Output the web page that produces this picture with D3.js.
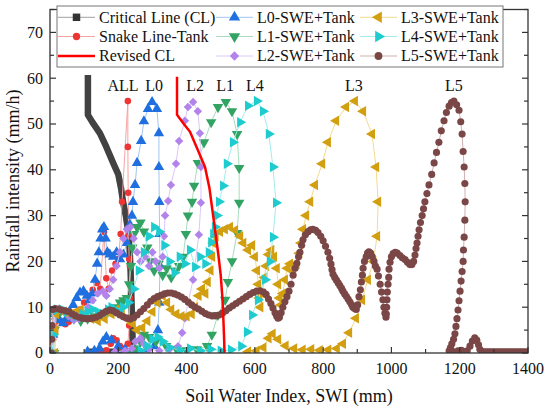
<!DOCTYPE html>
<html><head><meta charset="utf-8">
<script src="https://cdn.jsdelivr.net/npm/d3@7"></script>
<style>body{margin:0;background:#fff}</style>
</head><body><svg id="c" width="550" height="412"></svg>
<script>
const xTicks=[0,200,400,600,800,1000,1200,1400];
const yTicks=[0,10,20,30,40,50,60,70];
const peakLabels=[["ALL",214],["L0",305],["L2",425],["L1",513],["L4",600],["L3",890],["L5",1183]];

const CL=[[111,60.7],[111,56],[111,52],[125,50.3],[146,48],[165,45],[185,41.5],[200,39],[208,36],[214,33],[222,30],[228,27],[233,23],[236,18],[238,13],[240,8],[242,3],[243,0.4],[200,0.3],[150,0.3],[110,0.3]];
const revisedCL=[[372,60.3],[372,52],[392,50],[410,48.3],[432,44.5],[454,40.6],[467,36],[476,31],[485,26],[493,21.5],[500,17],[505,12],[508,7],[510,3],[511,0]];
const snake=[[3,0],[4,2.5],[6,5],[9,3],[12,5.5],[16,6.8],[25,7.2],[35,6.8],[45,6.3],[55,6.8],[65,7.5],[75,8.2],[88,9.5],[100,11],[112,12.5],[125,13.8],[137,15.3],[147,14],[158,26.5],[165,16.3],[172,14],[182,18],[192,19.5],[200,20.5],[207,26],[211,33],[228,55],[228,45],[229,35],[230,26],[232,20.5],[234,19],[234,12],[232,6],[228,2],[215,1],[205,1.5],[195,2.8],[185,3.2],[178,2],[165,0.6],[150,0.3]];
const L0=[[8,0],[9,4],[10,8.5],[18,8],[28,7.2],[38,6.5],[48,7.5],[58,9],[68,10.5],[78,12],[88,13.2],[98,13.5],[108,12.5],[116,11.5],[124,13],[132,16],[138,19.5],[143,22],[148,25],[153,27],[158,27.5],[163,25],[168,22],[175,21.5],[185,21],[195,22],[205,20.5],[215,21.5],[225,24],[234,28],[240,30],[243,33],[249,36.7],[255,41.5],[267,46.3],[275,50.6],[287,53.3],[299,54.8],[313,53.3],[319,48],[319,40.6],[320,33],[321,26],[322,19],[320,11],[316,5],[305,1.5],[280,0.8],[250,0.6],[220,0.8],[200,1.5],[180,2.8],[165,3.5],[155,2.5],[145,1],[130,0.5],[110,0.3]];
const L1=[[12,0],[13,5],[15,9],[30,9],[50,8.5],[70,7.5],[90,7],[110,7.5],[130,8],[150,8.5],[170,9],[190,10],[205,11],[215,11.5],[225,12],[232,15],[237,19],[241,23],[246,26],[255,27.5],[265,28.5],[275,26.5],[285,23],[293,20],[305,18],[318,19.5],[330,17],[342,18.5],[355,16.5],[366,18],[378,19],[390,21],[398,26],[404,30],[416,33],[422,36.5],[433,41.5],[451,46],[472,50.4],[492,53.7],[515,54.8],[533,52.8],[548,47.8],[554,40.4],[554,32.8],[548,26.2],[533,20],[521,15.5],[513,11.6],[492,8.3],[474,4],[460,1.5],[430,0.8],[400,0.6],[370,0.9],[340,1.5],[310,2.5],[290,3.5],[275,4],[265,2.5],[250,1],[230,0.4]];
const L2=[[10,0],[12,5],[14,9],[25,9.5],[40,9],[55,8],[70,7.2],[85,7.5],[100,8.5],[112,10],[125,11.5],[140,13],[155,13.5],[165,12.5],[175,14],[185,16],[195,19],[205,22],[215,25],[225,27],[235,27.5],[245,25],[255,22],[265,20],[278,21],[290,19],[300,22],[310,20],[320,18.5],[330,21],[334,25.5],[337,30],[346,33.2],[354,36.7],[369,41.3],[378,46.3],[395,50.7],[404,53.7],[419,54.8],[433,52.8],[439,48],[442,40.6],[442,32.8],[436,25.8],[419,16],[395,7.6],[387,4.4],[375,1.5],[350,0.8],[320,0.5],[290,0.8],[275,2],[265,3.2],[250,2.5],[240,1],[220,0.5],[190,0.3]];
const L3=[[15,0],[16,5],[18,8.5],[40,9],[60,8.5],[75,9],[90,9.5],[105,8.5],[120,7.5],[140,7],[160,7.5],[180,8.5],[195,9.5],[210,8.5],[225,7.5],[240,6.5],[255,5],[270,5.5],[285,7],[300,9],[315,11],[330,12.5],[343,11],[355,9.5],[370,8.5],[385,8],[400,8],[415,8.5],[425,10],[435,12.5],[445,14],[455,13],[462,15.5],[470,18],[475,21],[478,24],[485,25.5],[498,26.5],[512,27],[527,27.5],[542,26.8],[557,25.5],[566,24],[580,22.5],[592,23.5],[600,21],[606,18],[610,15],[613,12],[616,10],[622,13],[628,16.5],[633,19],[640,21.5],[648,22.5],[656,21],[664,18.5],[668,15],[672,12],[676,10.5],[682,13],[688,16],[695,18.5],[703,19.5],[712,18],[722,19.5],[730,21.8],[735,24],[741,27],[750,30],[762,33],[776,36.7],[797,41.3],[814,46],[838,50.7],[867,53.7],[893,55],[917,52.8],[943,47.8],[955,40.6],[961,33],[958,25.5],[947,20],[931,16],[914,11.6],[896,7.6],[876,4.4],[858,2],[840,1],[815,0.7],[790,0.6],[765,0.8],[740,0.7],[715,1],[690,1.6],[668,3],[652,4.2],[640,3.2],[625,1.2],[605,0.5],[580,0.3]];
const L4=[[8,0],[9,4],[10,9],[20,9.5],[35,9.5],[50,9],[65,8.5],[80,8],[95,8.5],[110,9],[125,9.5],[140,9],[155,8.5],[170,9.5],[180,10],[190,9.5],[200,9],[214,10],[230,11],[245,14],[260,18],[275,22],[290,25.5],[305,27.5],[320,26.5],[335,23.5],[350,20],[365,17.5],[380,21],[395,19.5],[410,22.5],[425,18.8],[440,21],[455,19.5],[465,22],[472,24.2],[478,26],[483,27.5],[489,30],[495,33],[507,36.5],[518,41.3],[536,46],[557,50.4],[580,54],[606,55],[624,52.8],[641,47.8],[653,40.6],[662,32.8],[653,25.3],[644,20],[630,16],[609,11.6],[592,8.3],[577,4.6],[560,1.5],[530,0.7],[500,0.5],[470,0.8],[440,0.5],[410,1],[380,0.6],[350,1.2],[330,2.5],[315,3.5],[300,3],[285,1.5],[265,0.5]];
const L5=[[4,0],[5,3],[6,6],[8,9.5],[15,9.7],[25,9.6],[35,9.4],[45,9.2],[55,9],[65,8.5],[75,8.1],[85,7.8],[95,7.6],[105,7.5],[115,7.5],[125,7.6],[135,7.8],[145,8.2],[155,8.7],[165,9.1],[175,9.4],[185,9.2],[195,8.8],[205,8.3],[215,7.9],[225,7.6],[235,7.4],[245,7.7],[255,8.3],[265,9],[275,9.7],[285,10.5],[295,11.3],[305,11.9],[315,12.3],[325,12.6],[335,12.9],[345,13.1],[355,13.1],[365,12.9],[375,12.6],[385,12.2],[395,11.7],[405,11.1],[415,10.5],[425,10],[435,9.6],[445,9.1],[455,8.6],[465,8.3],[475,8.1],[485,8.1],[495,8.3],[505,8.7],[515,9.2],[525,9.8],[535,10.3],[545,10.8],[555,11.3],[565,11.8],[575,12.3],[585,12.8],[595,13.2],[605,13.5],[615,13.6],[625,13.3],[633,12.8],[640,11.8],[647,10.8],[653,9.8],[659,8.8],[664,8],[668,7.6],[672,7.8],[677,8.8],[682,10],[688,11.2],[694,12.3],[700,13.5],[706,15],[712,17],[718,18.5],[723,19.6],[728,21],[732,22],[737,23.5],[741,24.7],[748,25.8],[756,26.5],[763,26.9],[770,27],[778,26.8],[785,26.3],[793,25.5],[800,24.5],[807,23.3],[814,22],[819,20.7],[823,19.4],[826,18.2],[829,17.2],[834,16.5],[839,15.9],[844,15.3],[849,14.7],[854,14.1],[858,13.5],[863,12.9],[868,12.4],[873,11.8],[878,11.2],[883,10.6],[887,10],[892,9.7],[897,9.5],[901,10.5],[905,12.3],[909,13.8],[912,15.5],[915,17],[917,18.5],[921,20],[926,21],[930,21.8],[934,22.1],[939,21.8],[944,21],[949,20],[953,19],[958,18.3],[962,16.8],[967,15],[971,13.3],[975,11.6],[978,10],[981,8.7],[984,7.8],[985,8.5],[986,10],[987,11.6],[988,13.3],[990,15],[992,16.5],[993,18.3],[996,19.8],[1000,21],[1005,21.7],[1011,22],[1017,21.8],[1025,21.3],[1032,20.8],[1040,20.4],[1047,19.8],[1054,19.3],[1060,19.3],[1065,20],[1069,21.4],[1072,22.8],[1075,24],[1078,25.5],[1081,26.9],[1085,28.5],[1090,30],[1094,31.5],[1098,33],[1104,34.8],[1110,36.7],[1118,39],[1125,41.5],[1132,43.8],[1139,46],[1146,48.5],[1154,50.7],[1161,52.5],[1169,53.9],[1176,54.7],[1183,55],[1191,54.2],[1198,53],[1203,50.5],[1207,47.8],[1210,44],[1213,40.6],[1215,37],[1216,33],[1215,29],[1213,25.3],[1211,22.5],[1210,20],[1207,17.8],[1204,15.7],[1201,13.5],[1198,11.4],[1195,9.4],[1192,7.5],[1189,5.8],[1186,4.2],[1182,3],[1177,2],[1173,1.2],[1169,0.5],[1180,0.3],[1195,0.5],[1205,0.6],[1212,0.3],[1222,0.5],[1230,1.5],[1237,2.6],[1244,3.3],[1250,2.8],[1255,1.8],[1259,0.8],[1264,0.3],[1270,0.25],[1277,0.25],[1284,0.25],[1291,0.25],[1298,0.25],[1305,0.25],[1312,0.25],[1319,0.25],[1326,0.25],[1333,0.25],[1340,0.25],[1347,0.25],[1354,0.25],[1361,0.25],[1368,0.25],[1375,0.25],[1382,0.25],[1389,0.25],[1396,0.25]];

const FONT="'Liberation Serif','Times New Roman',serif";
const svg=d3.select("#c");
const x=d3.scaleLinear().domain([0,1400]).range([50,528]);
const y=d3.scaleLinear().domain([0,75]).range([353,9.5]);

svg.append("defs").append("clipPath").attr("id","clip").append("rect")
  .attr("x",50).attr("y",9.5).attr("width",478).attr("height",343.5);

const series=[
 {name:"Snake Line-Tank",data:snake,color:"#ee3535",line:"#f5a3a3",shape:d3.symbolCircle,rot:0,size:34},
 {name:"L0-SWE+Tank",data:L0,color:"#1f6fe0",line:"#a3c5f3",shape:d3.symbolTriangle,rot:0,size:48},
 {name:"L1-SWE+Tank",data:L1,color:"#33a363",line:"#a9dcbd",shape:d3.symbolTriangle,rot:180,size:48},
 {name:"L2-SWE+Tank",data:L2,color:"#b283ea",line:"#dcc8f6",shape:d3.symbolSquare,rot:45,size:36},
 {name:"L3-SWE+Tank",data:L3,color:"#d29f10",line:"#f3da8e",shape:d3.symbolTriangle,rot:-90,size:48},
 {name:"L4-SWE+Tank",data:L4,color:"#1ecbcf",line:"#a3ecec",shape:d3.symbolTriangle,rot:90,size:48},
 {name:"L5-SWE+Tank",data:L5,color:"#7a4646",line:"#cfb0b0",shape:d3.symbolCircle,rot:0,size:40}
];

const plot=svg.append("g").attr("clip-path","url(#clip)");
const line=d3.line().x(d=>x(d[0])).y(d=>y(d[1]));

plot.append("path").attr("d",line(CL)).attr("fill","none").attr("stroke","#424242")
  .attr("stroke-width",6.5).attr("stroke-linejoin","round");

series.forEach(s=>{
  const g=plot.append("g");
  g.append("path").attr("d",line(s.data)).attr("fill","none").attr("stroke",s.line).attr("stroke-width",1);
  g.selectAll("path.m").data(s.data).enter().append("path").attr("class","m")
    .attr("d",d3.symbol().type(s.shape).size(s.size))
    .attr("transform",d=>`translate(${x(d[0])},${y(d[1])}) rotate(${s.rot})`)
    .attr("fill",s.color);
});

plot.append("path").attr("d",line(revisedCL)).attr("fill","none").attr("stroke","#ff0000")
  .attr("stroke-width",2.5).attr("stroke-linejoin","round");

const ax=svg.append("g");
ax.append("rect").attr("x",50).attr("y",9.5).attr("width",478).attr("height",343.5)
  .attr("fill","none").attr("stroke","#333").attr("stroke-width",1.3);
const xMinor=d3.range(0,1401,100), yMinor=d3.range(0,76,5);
xMinor.forEach(v=>{
  const L=(v%200===0)?6:4;
  ax.append("line").attr("x1",x(v)).attr("x2",x(v)).attr("y1",353).attr("y2",353-L).attr("stroke","#333").attr("stroke-width",1.2);
});
yMinor.forEach(v=>{
  const L=(v%10===0)?6:4;
  ax.append("line").attr("x1",50).attr("x2",50+L).attr("y1",y(v)).attr("y2",y(v)).attr("stroke","#333").attr("stroke-width",1.2);
  ax.append("line").attr("x1",528).attr("x2",528-L).attr("y1",y(v)).attr("y2",y(v)).attr("stroke","#333").attr("stroke-width",1.2);
});
xTicks.forEach(v=>{
  ax.append("text").attr("x",x(v)).attr("y",374).attr("text-anchor","middle")
    .attr("font-family",FONT).attr("font-size",16).attr("fill","#111").text(v);
});
yTicks.forEach(v=>{
  ax.append("text").attr("x",43).attr("y",y(v)).attr("dy","0.34em").attr("text-anchor","end")
    .attr("font-family",FONT).attr("font-size",16).attr("fill","#111").text(v);
});
ax.append("text").attr("x",289).attr("y",402).attr("text-anchor","middle")
  .attr("font-family",FONT).attr("font-size",18).attr("fill","#111").text("Soil Water Index, SWI (mm)");
ax.append("text").attr("transform","translate(19,181) rotate(-90)").attr("text-anchor","middle")
  .attr("font-family",FONT).attr("font-size",18).attr("fill","#111").text("Rainfall intensity (mm/h)");

peakLabels.forEach(([t,v])=>{
  svg.append("text").attr("x",x(v)).attr("y",y(57.3)).attr("text-anchor","middle")
    .attr("font-family",FONT).attr("font-size",16).attr("fill","#111").text(t);
});

const lg=svg.append("g");
lg.append("rect").attr("x",57).attr("y",6).attr("width",446).attr("height",61)
  .attr("fill","#fff").attr("stroke","#777").attr("stroke-width",1);
const cols=[58,216,360], rows=[17.3,36.5,56];
const legendItems=[
 {col:0,row:0,name:"Critical Line (CL)",line:"#a0a0a0",lw:1,color:"#333",shape:d3.symbolSquare,rot:0,size:56},
 {col:0,row:1,s:series[0]},
 {col:0,row:2,name:"Revised CL",line:"#ff0000",lw:2.5,shape:null},
 {col:1,row:0,s:series[1]},{col:1,row:1,s:series[2]},{col:1,row:2,s:series[3]},
 {col:2,row:0,s:series[4]},{col:2,row:1,s:series[5]},{col:2,row:2,s:series[6]}
];
legendItems.forEach(it=>{
  const o=it.s?{name:it.s.name,line:it.s.line,lw:1,color:it.s.color,shape:it.s.shape,rot:it.s.rot,size:it.s.size+8}:it;
  const x0=cols[it.col], yy=rows[it.row];
  lg.append("line").attr("x1",x0).attr("x2",x0+37).attr("y1",yy).attr("y2",yy).attr("stroke",o.line).attr("stroke-width",o.lw);
  if(o.shape){
    lg.append("path").attr("d",d3.symbol().type(o.shape).size(o.size))
      .attr("transform",`translate(${x0+18.5},${yy}) rotate(${o.rot})`).attr("fill",o.color);
  }
  lg.append("text").attr("x",x0+41).attr("y",yy).attr("dy","0.34em")
    .attr("font-family",FONT).attr("font-size",16).attr("fill","#111").text(o.name);
});
</script></body></html>
